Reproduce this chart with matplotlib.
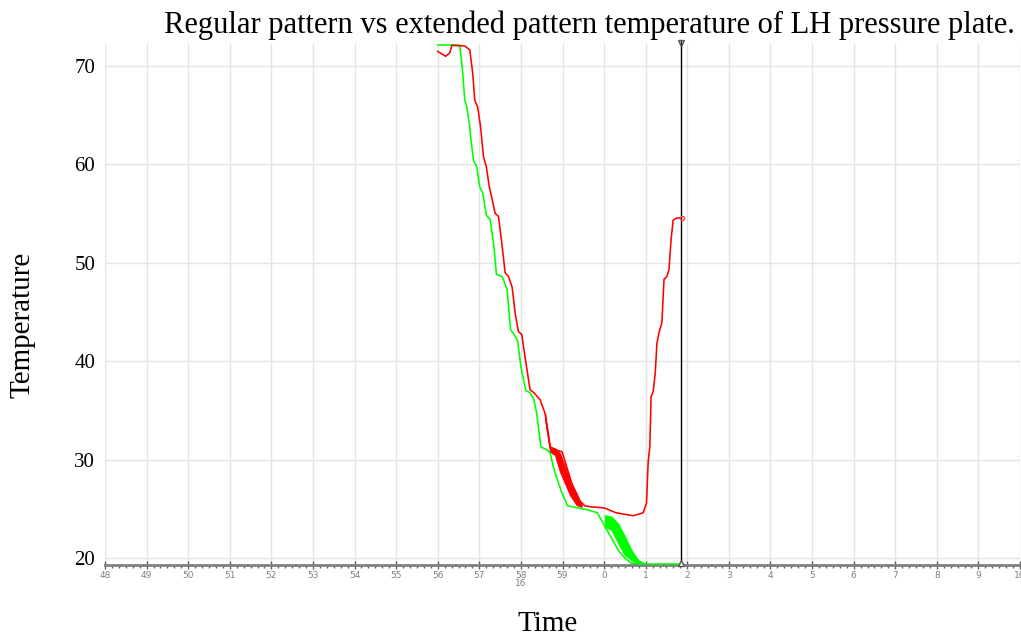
import numpy as np
import matplotlib
matplotlib.use("Agg")
import matplotlib.pyplot as plt
from matplotlib.ticker import MultipleLocator, FixedLocator

# time in minutes past 15:00 (60 = 16:00)
red_t = [56.00, 56.19, 56.29, 56.34, 56.65, 56.77, 56.84, 56.89, 56.96, 57.03,
         57.10, 57.17, 57.24, 57.31, 57.38, 57.46, 57.54, 57.62, 57.70, 57.79,
         57.86, 57.94, 58.02, 58.10, 58.22, 58.31, 58.46, 58.58, 58.70, 58.82,
         58.99, 59.07, 59.20, 59.32, 59.54, 59.70, 60.00, 60.29, 60.70, 60.94,
         61.02, 61.06, 61.10, 61.13, 61.18, 61.23, 61.27, 61.32, 61.39, 61.44,
         61.51, 61.56, 61.61, 61.66, 61.73, 61.82, 61.86]
red_v = [71.45, 70.95, 71.30, 72.06, 72.00, 71.60, 69.30, 66.50, 65.80, 63.80,
         60.75, 59.70, 57.70, 56.40, 55.00, 54.70, 52.00, 49.00, 48.60, 47.50,
         44.90, 43.00, 42.70, 40.40, 37.10, 36.80, 36.10, 34.70, 31.30, 31.00,
         30.80, 29.70, 27.90, 26.20, 25.30, 25.20, 25.10, 24.60, 24.30, 24.60,
         25.60, 29.80, 31.30, 36.40, 36.90, 38.80, 41.80, 42.90, 43.90, 48.30,
         48.60, 49.30, 52.30, 54.30, 54.50, 54.55, 54.55]

green_t = [56.00, 56.53, 56.55, 56.60, 56.65, 56.70, 56.77, 56.79, 56.86, 56.94,
           57.01, 57.08, 57.17, 57.26, 57.36, 57.41, 57.55, 57.67, 57.75, 57.82,
           57.92, 58.00, 58.12, 58.22, 58.31, 58.38, 58.48, 58.62, 58.70, 58.79,
           58.96, 59.12, 59.26, 59.60, 59.84, 60.02, 60.17, 60.34, 60.50, 60.65,
           60.89, 61.06, 61.85]
green_v = [72.10, 72.10, 71.30, 69.30, 66.50, 65.80, 63.80, 62.80, 60.40, 59.70,
           57.70, 57.10, 54.80, 54.40, 51.30, 48.80, 48.60, 47.20, 43.20, 42.80,
           42.10, 39.40, 37.00, 36.80, 36.10, 34.70, 31.30, 31.00, 30.70, 29.10,
           26.90, 25.30, 25.20, 24.90, 24.60, 23.20, 22.10, 20.80, 20.00, 19.50,
           19.40, 19.40, 19.40]

# noisy bands
green_band_t = [60.02, 60.18, 60.34, 60.50, 60.66, 60.82, 60.98]
green_band_hi = [24.37, 24.20, 23.50, 22.20, 20.80, 19.80, 19.46]
green_band_lo = [23.20, 22.85, 21.50, 20.30, 19.80, 19.50, 19.40]

red_band_t = [58.58, 58.70, 58.82, 58.94, 59.06, 59.18, 59.34, 59.46]
red_band_hi = [34.70, 31.30, 31.15, 30.64, 29.28, 27.93, 26.57, 25.39]
red_band_lo = [34.20, 30.80, 30.47, 28.77, 27.59, 26.40, 25.39, 25.22]

cursor_t = 61.86
minutes = list(range(48, 71))
minute_labels = [str(m % 60) for m in minutes]
y_ticks = [20, 30, 40, 50, 60, 70]

W, H = 1021, 637
fig = plt.figure(figsize=(W / 100, H / 100), dpi=100)
ax = fig.add_axes([105 / W, (H - 565) / H, (1020 - 105) / W, (565 - 44) / H])

ax.set_xlim(48, 70)
ax.set_ylim(19.3, 72.2)

ax.fill_between(green_band_t, green_band_lo, green_band_hi, color="#00ff00", lw=0.8)
ax.fill_between(red_band_t, red_band_lo, red_band_hi, color="#ff0000", lw=0.8)
ax.plot(green_t, green_v, color="#00ff00", lw=1.15, zorder=3)
ax.plot(red_t, red_v, color="#ff0000", lw=1.15, zorder=4)

# cursor line and markers
ax.plot([cursor_t, cursor_t], [19.3, 72.5], color="black", lw=1, clip_on=False, zorder=5)
ax.plot(cursor_t, 72.3, marker="v", ms=4, mfc="none", mec="#555555", clip_on=False, zorder=6)
ax.plot(cursor_t, 19.5, marker="^", ms=5, mfc="white", mec="#555555", clip_on=False, zorder=6)
ax.plot(red_t[-1] + 0.02, red_v[-1], marker="o", ms=3, mfc="none", mec="#ff4444", zorder=6)

ax.xaxis.set_major_locator(FixedLocator(minutes))
ax.set_xticklabels(minute_labels)
ax.xaxis.set_minor_locator(MultipleLocator(1 / 6))
ax.set_yticks(y_ticks)
ax.set_yticklabels([str(v) for v in y_ticks], family="Liberation Serif", fontsize=15)

ax.grid(True, which="major", color="#e4e4e4", lw=1)
ax.set_axisbelow(True)
for s in ["left", "right", "top"]:
    ax.spines[s].set_visible(False)
ax.spines["bottom"].set_color("#808080")
ax.spines["bottom"].set_linewidth(2)

ax.tick_params(axis="x", which="major", direction="inout", length=6, width=1,
               color="#606060", labelsize=6.5, labelcolor="#808080", pad=1)
ax.tick_params(axis="x", which="minor", direction="out", length=2, width=1,
               color="#606060")
ax.tick_params(axis="y", length=0, pad=7)

ax.text(58, -0.035, "16", transform=ax.get_xaxis_transform(), ha="center",
        va="center", fontsize=6.5, color="#808080")

fig.text(589 / W, 1 - 33 / H, "Regular pattern vs extended pattern temperature of LH pressure plate.",
         family="Liberation Serif", fontsize=22, ha="center", va="baseline")
fig.text(23 / W, 1 - 325 / H, "Temperature", family="Liberation Serif", fontsize=21,
         rotation=90, ha="center", va="center")
fig.text(548 / W, 1 - 624 / H, "Time", family="Liberation Serif", fontsize=21,
         ha="center", va="center")

fig.savefig("out.png", dpi=100)
